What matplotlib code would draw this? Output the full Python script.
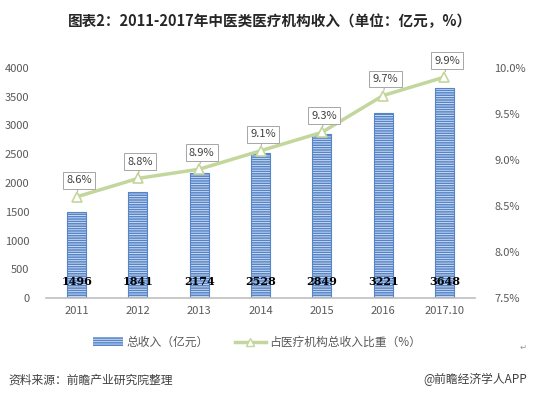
import matplotlib.pyplot as plt
import matplotlib.patches as mpatches
from matplotlib.lines import Line2D

plt.rcParams['font.family'] = ['Noto Sans CJK SC', 'DejaVu Sans']

anos = ['2011', '2012', '2013', '2014', '2015', '2016', '2017.10']
receita = [1496, 1841, 2174, 2528, 2849, 3221, 3648]
proporcao = [8.6, 8.8, 8.9, 9.1, 9.3, 9.7, 9.9]
rotulos_prop = ['8.6%', '8.8%', '8.9%', '9.1%', '9.3%', '9.7%', '9.9%']

azul = '#5584c8'
verde = '#c3d69b'
cinza_txt = '#595959'

plt.rcParams['hatch.linewidth'] = 0.6

fig = plt.figure(figsize=(5.35, 3.97), dpi=100)
ax = fig.add_axes([0.086, 0.249, 0.802, 0.580])
x = list(range(len(anos)))

ax.bar(x, receita, width=0.31, color=azul, edgecolor='#dfe8f5', hatch='-------', linewidth=0)
ax.bar(x, receita, width=0.31, color='none', edgecolor=azul, linewidth=0.8)

for xi, v in zip(x, receita):
    ax.text(xi, 287, str(v), ha='center', va='center', fontsize=8, fontweight='bold',
            color='black', family=['DejaVu Serif'])

ax.set_xlim(-0.5, len(anos) - 0.5)
ax.set_ylim(0, 4000)
ax.set_yticks(range(0, 4001, 500))
ax.set_xticks(x)
ax.set_xticklabels(anos)
ax.tick_params(axis='both', length=0, labelsize=8, colors=cinza_txt, pad=6)
ax.tick_params(axis='y', pad=12)
for lado in ['top', 'right', 'left']:
    ax.spines[lado].set_visible(False)
ax.spines['bottom'].set_color('#bfbfbf')
ax.spines['bottom'].set_linewidth(1.2)

ax2 = ax.twinx()
ax2.plot(x, proporcao, color=verde, linewidth=2.5, marker='^', markersize=7,
         markerfacecolor='white', markeredgecolor=verde, markeredgewidth=1.2, zorder=3)
ax2.set_ylim(7.5, 10.0)
ax2.set_yticks([7.5, 8.0, 8.5, 9.0, 9.5, 10.0])
ax2.set_yticklabels([f'{t:.1f}%' for t in [7.5, 8.0, 8.5, 9.0, 9.5, 10.0]])
ax2.tick_params(axis='y', length=0, labelsize=8, colors=cinza_txt, pad=14)
for lado in ['top', 'right', 'left', 'bottom']:
    ax2.spines[lado].set_visible(False)

for xi, v, r in zip(x, proporcao, rotulos_prop):
    ax2.annotate(r, xy=(xi, v), xytext=(xi + 0.04, v + 0.18), ha='center', va='center',
                 fontsize=8, color='#404040',
                 bbox=dict(boxstyle='square,pad=0.3', fc='white', ec='#a6a6a6', lw=0.7),
                 arrowprops=dict(arrowstyle='-', color='#a6a6a6', lw=0.7, shrinkA=0, shrinkB=4))

fig.text(0.505, 0.948, '图表2：2011-2017年中医类医疗机构收入（单位：亿元，%）',
         ha='center', va='center', fontsize=10.5, fontweight='bold', color='#262626')

leg_handles = [
    mpatches.Patch(facecolor=azul, edgecolor='#dfe8f5', hatch='-------', linewidth=0),
    Line2D([0], [0], color=verde, linewidth=2.5, marker='^', markersize=6,
           markerfacecolor='white', markeredgecolor=verde),
]
fig.legend(leg_handles, ['总收入（亿元）', '占医疗机构总收入比重（%）'],
           loc='center', bbox_to_anchor=(0.48, 0.138), ncol=2, frameon=False,
           fontsize=8.5, labelcolor=cinza_txt, handlelength=2.6, handletextpad=0.3,
           columnspacing=2.2)

fig.text(0.977, 0.126, '↵', ha='center', va='center', fontsize=6, color='#999999',
         family=['DejaVu Sans'])
fig.text(0.015, 0.043, '资料来源：前瞻产业研究院整理', ha='left', va='center',
         fontsize=8.5, style='italic', color='#404040')
fig.text(0.985, 0.043, '@前瞻经济学人APP', ha='right', va='center',
         fontsize=8.5, color='#404040')

fig.savefig('out.png', dpi=100, facecolor='white')
